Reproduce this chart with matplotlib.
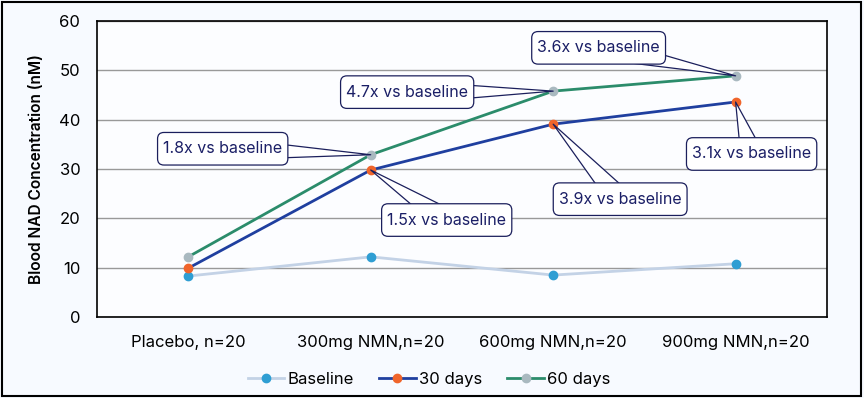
import matplotlib
matplotlib.use("Agg")
import matplotlib.pyplot as plt
from matplotlib.patches import Rectangle, BoxStyle

plt.rcParams['font.family'] = ['Inter', 'DejaVu Sans']

groups = ["Placebo, n=20", "300mg NMN,n=20", "600mg NMN,n=20", "900mg NMN,n=20"]
baseline = [8.3, 12.2, 8.5, 10.8]
days30 = [9.9, 29.8, 39.1, 43.6]
days60 = [12.2, 32.9, 45.8, 48.9]

# callouts: (series, index, text, offset in pixels)
callouts = [
    ("60", 1, "1.8x vs baseline", (-148, 6)),
    ("30", 1, "1.5x vs baseline", (76, -50)),
    ("60", 2, "4.7x vs baseline", (-146, -1)),
    ("30", 2, "3.9x vs baseline", (67, -75)),
    ("60", 3, "3.6x vs baseline", (-137, 28)),
    ("30", 3, "3.1x vs baseline", (16, -52)),
]


def callout_box(x0, y0, width, height, mutation_size):
    # rounded box, more padding top/bottom than left/right
    px = 0.35 * mutation_size
    py = 0.55 * mutation_size
    rnd = BoxStyle.Round(pad=0, rounding_size=0.4)
    return rnd(x0 - px, y0 - py, width + 2 * px, height + 2 * py, mutation_size)


fig = plt.figure(figsize=(8.64, 3.98), dpi=100)
fig.patch.set_facecolor('#f7faff')
ax = fig.add_axes([0.1123, 0.2035, 0.8447, 0.7435])
ax.set_facecolor('#fcfdff')

x = list(range(len(groups)))
ax.plot(x, baseline, color='#c3d2e6', lw=2.0, marker='o', ms=6,
        mfc='#2f9ed3', mec='#2f9ed3', label='Baseline', zorder=3)
ax.plot(x, days30, color='#1f3f9f', lw=2.0, marker='o', ms=6,
        mfc='#f0652b', mec='#f0652b', label='30 days', zorder=4)
ax.plot(x, days60, color='#2b8c6b', lw=2.0, marker='o', ms=6,
        mfc='#a9b9c0', mec='#a9b9c0', label='60 days', zorder=4)

ax.set_xlim(-0.5, 3.5)
ax.set_ylim(0, 60)
ax.set_yticks(range(0, 61, 10))
ax.set_xticks(x)
ax.set_xticklabels(groups)
ax.tick_params(axis='both', length=0, labelsize=12)
ax.tick_params(axis='x', pad=13)
ax.tick_params(axis='y', pad=12)
ax.grid(axis='y', color='#999999', lw=1)
ax.set_axisbelow(True)
for s in ax.spines.values():
    s.set_color('black')
    s.set_linewidth(1.2)
ax.set_ylabel('Blood NAD Concentration (nM)', fontsize=11.2, fontweight='semibold', labelpad=11)

series = {"30": days30, "60": days60}
for key, i, txt, off in callouts:
    ax.annotate(txt, xy=(i, series[key][i]), xytext=off, textcoords='offset pixels',
                ha='center', va='center', fontsize=11.5, color='#1b1f66', zorder=6,
                bbox=dict(boxstyle=callout_box, fc='white', ec='#1b1f5c', lw=0.9),
                arrowprops=dict(arrowstyle='wedge,tail_width=1.4', fc='white',
                                ec='#1b1f5c', lw=0.9, patchA=None, shrinkA=0, shrinkB=0))

ax.legend(loc='upper center', bbox_to_anchor=(0.455, -0.135), ncol=3, frameon=False,
          fontsize=12, handlelength=2.2, columnspacing=1.5, handletextpad=0.2)

fig.patches.append(Rectangle((0.002, 0.006), 0.995, 0.99, transform=fig.transFigure,
                             fill=False, ec='black', lw=1.5))

fig.savefig('out.png', dpi=100, facecolor=fig.get_facecolor())
